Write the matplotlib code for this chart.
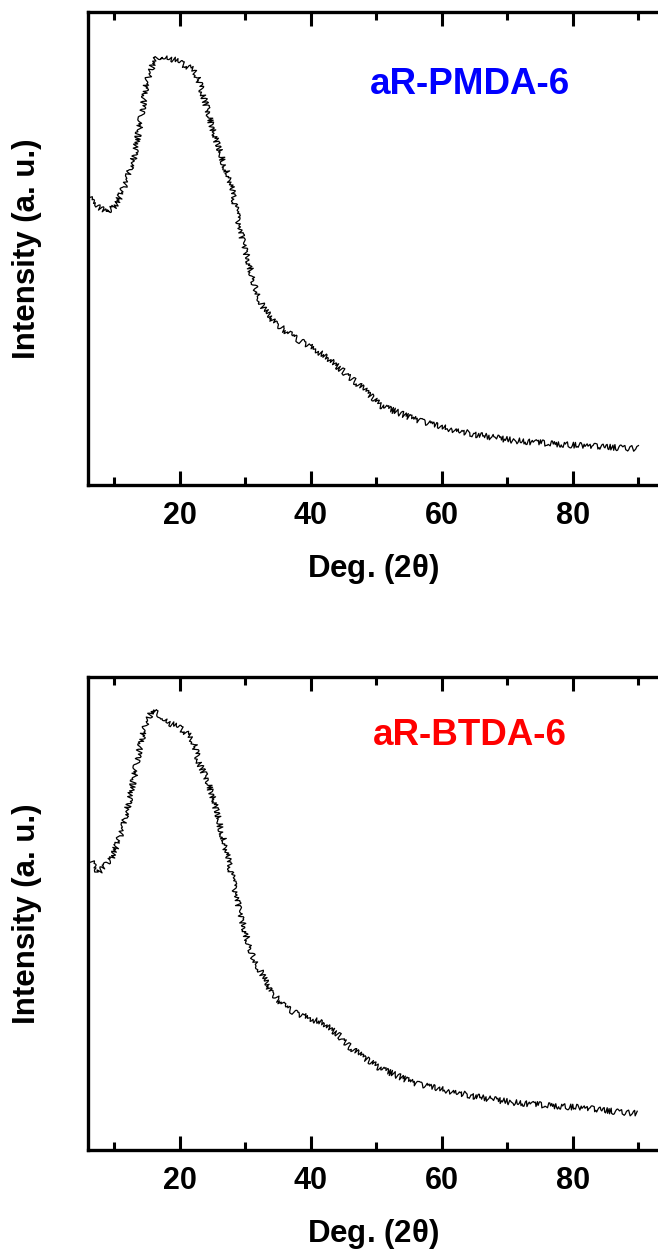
#!/usr/bin/env python3
"""
XRD patterns of the aR-PMDA-6 and aR-BTDA-6 samples
Two stacked panels, intensity in arbitrary units
"""

import matplotlib
matplotlib.use('Agg')
import matplotlib.pyplot as plt

plt.rcParams['font.family'] = ['Liberation Sans', 'DejaVu Sans']
plt.rcParams['font.weight'] = 'bold'
plt.rcParams['mathtext.fontset'] = 'custom'
plt.rcParams['mathtext.rm'] = 'Liberation Sans'

# aR-PMDA-6 pattern (2theta in deg, intensity in a.u.)
pmda_2theta = [5.9, 6.4, 8.9, 10.4, 11.9, 13.0, 14.1, 15.0, 16.1, 17.1,
               18.7, 20.2, 22.2, 22.9, 24.1, 25.2, 26.7, 27.8, 28.6, 29.2,
               30.3, 31.5, 32.7, 34.2, 36.4, 38.3, 40.9, 43.4, 46.0, 48.3,
               50.6, 55.6, 60.8, 65.8, 70.9, 76.1, 81.1, 86.1, 90.0]
pmda_intensity = [292, 285, 272, 282, 305, 328, 368, 405, 425, 430,
                  427, 422, 415, 405, 378, 352, 322, 302, 275, 255,
                  228, 198, 178, 165, 153, 145, 135, 123, 108, 95,
                  80, 67, 57, 50, 45, 42, 40, 38, 37]

# aR-BTDA-6 pattern
btda_2theta = [5.9, 6.4, 7.4, 7.9, 9.4, 10.5, 11.5, 12.7, 13.8, 14.8,
               15.8, 17.1, 18.6, 20.1, 21.4, 22.2, 22.9, 24.2, 25.2, 26.2,
               27.2, 28.2, 29.2, 30.2, 31.2, 32.5, 33.8, 35.8, 37.8, 39.9,
               41.9, 44.0, 46.0, 48.3, 50.6, 55.6, 60.7, 65.8, 70.9, 76.0,
               81.1, 86.2, 89.8]
btda_intensity = [292, 290, 278, 280, 290, 307, 327, 363, 400, 427,
                  440, 435, 427, 422, 415, 407, 388, 370, 350, 323,
                  297, 267, 237, 213, 193, 177, 160, 145, 137, 132,
                  127, 117, 103, 92, 82, 68, 60, 53, 48, 45,
                  43, 39, 37]

sample_names = ['aR-PMDA-6', 'aR-BTDA-6']
sample_colors = ['#0000FF', '#FF0000']

major_ticks = [20, 40, 60, 80]
minor_ticks = [10, 30, 50, 70, 90]


def draw_panel(ax, two_theta, intensity, name, color, name_y):
    """One XRD pattern with the sample name inside the frame"""
    line, = ax.plot(two_theta, intensity, color='black', linewidth=0.9)
    # detector noise look
    line.set_sketch_params(scale=3.0, length=1.0, randomness=30)

    ax.set_xlim(5.9, 93.0)
    ax.set_ylim(0, 473.5)

    ax.set_xticks(major_ticks)
    ax.set_xticks(minor_ticks, minor=True)
    ax.set_yticks([])

    ax.tick_params(axis='x', which='both', direction='in', top=True,
                   bottom=True, width=2.2, labelsize=22, pad=11)
    ax.tick_params(axis='x', which='major', length=10)
    ax.tick_params(axis='x', which='minor', length=5.5)
    for lbl in ax.get_xticklabels():
        lbl.set_fontweight('bold')

    for side in ['left', 'top', 'bottom']:
        ax.spines[side].set_linewidth(2.4)
    ax.spines['right'].set_visible(False)

    ax.set_xlabel(r'Deg. (2$\mathrm{\theta}$)', fontsize=22.5,
                  fontweight='bold', va='center')
    ax.xaxis.set_label_coords(0.5, -0.176)
    ax.set_ylabel('Intensity (a. u.)', fontsize=22.5, fontweight='bold',
                  va='center')
    ax.yaxis.set_label_coords(-0.106, 0.5)

    ax.text(0.67, name_y, name, transform=ax.transAxes, color=color,
            fontsize=26.5, fontweight='bold', ha='center', va='center')


def main():
    fig = plt.figure(figsize=(6.58, 12.58), dpi=100)

    ax_top = fig.add_axes([0.133, 0.6141, 0.867, 0.3764])
    ax_bot = fig.add_axes([0.133, 0.0855, 0.867, 0.3763])

    draw_panel(ax_top, pmda_2theta, pmda_intensity,
               sample_names[0], sample_colors[0], 0.846)
    draw_panel(ax_bot, btda_2theta, btda_intensity,
               sample_names[1], sample_colors[1], 0.877)

    fig.savefig('out.png', dpi=100)
    plt.close(fig)


if __name__ == "__main__":
    main()
